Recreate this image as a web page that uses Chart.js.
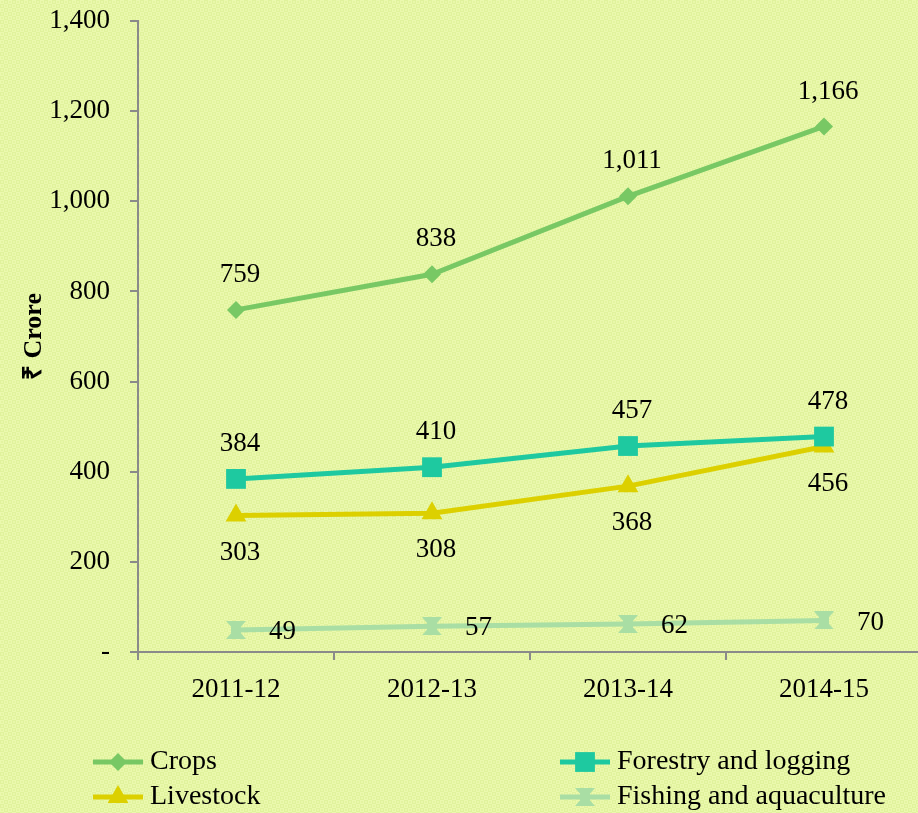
<!DOCTYPE html>
<html>
<head>
<meta charset="utf-8">
<script src="https://cdn.jsdelivr.net/npm/chart.js@4.4.1/dist/chart.umd.min.js"></script>
<style>
  html, body { margin: 0; padding: 0; overflow: hidden; background: #e5f5a2; }
  #chart { display: block; }
</style>
</head>
<body>
<canvas id="chart" width="936" height="813"></canvas>
<script>
// data
const years = ['2011-12', '2012-13', '2013-14', '2014-15'];
const crops = [759, 838, 1011, 1166];
const forestry = [384, 410, 457, 478];
const livestock = [303, 308, 368, 456];
const fishing = [49, 57, 62, 70];

const serif = '"Liberation Serif", "Times New Roman", serif';

// hourglass marker for fishing
function hourglass(color) {
    const c = document.createElement('canvas');
    c.width = 22; c.height = 18;
    const g = c.getContext('2d');
    g.fillStyle = color;
    g.beginPath();
    g.moveTo(1, 0); g.lineTo(21, 0); g.lineTo(13, 9);
    g.lineTo(21, 18); g.lineTo(1, 18); g.lineTo(9, 9);
    g.closePath();
    g.fill();
    g.fillRect(6, 6, 10, 6);
    return c;
}

// patterned background
function makePattern(ctx) {
    const t = document.createElement('canvas');
    t.width = 8; t.height = 8;
    const g = t.getContext('2d');
    g.fillStyle = '#e0f29c';
    g.fillRect(0, 0, 8, 8);
    g.fillStyle = '#ebf9ae';
    g.fillRect(0, 0, 4, 4);
    g.fillRect(4, 4, 4, 4);
    g.fillStyle = '#e3f4a0';
    g.fillRect(1, 1, 2, 2);
    g.fillRect(5, 5, 2, 2);
    g.fillStyle = '#e9f8aa';
    g.fillRect(5, 1, 2, 2);
    g.fillRect(1, 5, 2, 2);
    return ctx.createPattern(t, 'repeat');
}

const bgPlugin = {
    id: 'bg',
    beforeDraw(chart) {
        const ctx = chart.ctx;
        ctx.save();
        ctx.fillStyle = makePattern(ctx);
        ctx.fillRect(0, 0, chart.width, chart.height);
        ctx.restore();
    }
};

// value labels
const labelPlugin = {
    id: 'valueLabels',
    afterDatasetsDraw(chart) {
        const ctx = chart.ctx;
        const where = ['above', 'above', 'below', 'right'];
        ctx.save();
        ctx.font = '27px ' + serif;
        ctx.fillStyle = '#000';
        chart.data.datasets.forEach((ds, i) => {
            chart.getDatasetMeta(i).data.forEach((pt, j) => {
                const txt = ds.data[j].toLocaleString('en-US');
                ctx.textBaseline = 'middle';
                if (where[i] === 'above') {
                    ctx.textAlign = 'center';
                    ctx.fillText(txt, pt.x + 4, pt.y - 35);
                } else if (where[i] === 'below') {
                    ctx.textAlign = 'center';
                    ctx.fillText(txt, pt.x + 4, pt.y + 37);
                } else {
                    ctx.textAlign = 'left';
                    ctx.fillText(txt, pt.x + 33, pt.y + 2);
                }
            });
        });
        ctx.restore();
    }
};

// two-column legend
const legendPlugin = {
    id: 'gridLegend',
    afterDraw(chart) {
        const ctx = chart.ctx;
        const spots = [[93, 762], [560, 762], [93, 797], [560, 797]];
        ctx.save();
        ctx.font = '28px ' + serif;
        ctx.textBaseline = 'middle';
        ctx.textAlign = 'left';
        chart.data.datasets.forEach((ds, i) => {
            const [x, y] = spots[i];
            ctx.strokeStyle = ds.borderColor;
            ctx.lineWidth = 5;
            ctx.beginPath();
            ctx.moveTo(x, y);
            ctx.lineTo(x + 50, y);
            ctx.stroke();
            ctx.fillStyle = ds.pointBackgroundColor;
            ctx.strokeStyle = ds.pointBackgroundColor;
            Chart.helpers.drawPoint(ctx, {
                pointStyle: ds.pointStyle,
                radius: ds.pointRadius,
                rotation: 0,
                borderWidth: 0
            }, x + 25, y);
            ctx.fillStyle = '#000';
            ctx.fillText(ds.label, x + 57, y);
        });
        ctx.restore();
    }
};

const axisColor = '#8a8a8a';

new Chart(document.getElementById('chart'), {
    type: 'line',
    data: {
        labels: years,
        datasets: [{
            label: 'Crops',
            data: crops,
            borderColor: '#78c864',
            pointBackgroundColor: '#78c864',
            pointBorderWidth: 0,
            pointStyle: 'rectRot',
            pointRadius: 9,
            borderWidth: 5
        }, {
            label: 'Forestry and logging',
            data: forestry,
            borderColor: '#1ec9a0',
            pointBackgroundColor: '#1ec9a0',
            pointBorderWidth: 0,
            pointStyle: 'rect',
            pointRadius: 14,
            borderWidth: 5
        }, {
            label: 'Livestock',
            data: livestock,
            borderColor: '#dcd000',
            pointBackgroundColor: '#dcd000',
            pointBorderWidth: 0,
            pointStyle: 'triangle',
            pointRadius: 12,
            borderWidth: 5
        }, {
            label: 'Fishing and aquaculture',
            data: fishing,
            borderColor: '#a9dea4',
            pointBackgroundColor: '#a9dea4',
            pointBorderWidth: 0,
            pointStyle: hourglass('#a9dea4'),
            pointRadius: 9,
            borderWidth: 5
        }]
    },
    options: {
        responsive: false,
        animation: false,
        layout: { padding: { top: 21, right: 4, left: 0, bottom: 0 } },
        plugins: {
            legend: { display: false },
            tooltip: { enabled: false }
        },
        scales: {
            x: {
                offset: true,
                grid: {
                    offset: true,
                    drawOnChartArea: false,
                    tickLength: 8,
                    color: axisColor,
                    lineWidth: 2
                },
                border: { color: axisColor, width: 2 },
                ticks: {
                    color: '#000',
                    padding: 14,
                    font: { family: serif, size: 27 }
                },
                afterFit(scale) { scale.height = 161; }
            },
            y: {
                min: 0,
                max: 1400,
                grid: {
                    drawOnChartArea: false,
                    tickLength: 8,
                    color: axisColor,
                    lineWidth: 2
                },
                border: { color: axisColor, width: 2 },
                ticks: {
                    stepSize: 200,
                    color: '#000',
                    padding: 20,
                    font: { family: serif, size: 27 },
                    callback: v => v === 0 ? '-' : v.toLocaleString('en-US')
                },
                title: {
                    display: true,
                    text: '₹ Crore',
                    color: '#000',
                    padding: { top: 19, bottom: 0 },
                    font: { family: serif, size: 26, weight: 'bold' }
                },
                afterFit(scale) {
                    scale.width = 138;
                    scale.paddingTop = 0;
                    scale.paddingBottom = 0;
                }
            }
        }
    },
    plugins: [bgPlugin, labelPlugin, legendPlugin]
});
</script>
</body>
</html>
